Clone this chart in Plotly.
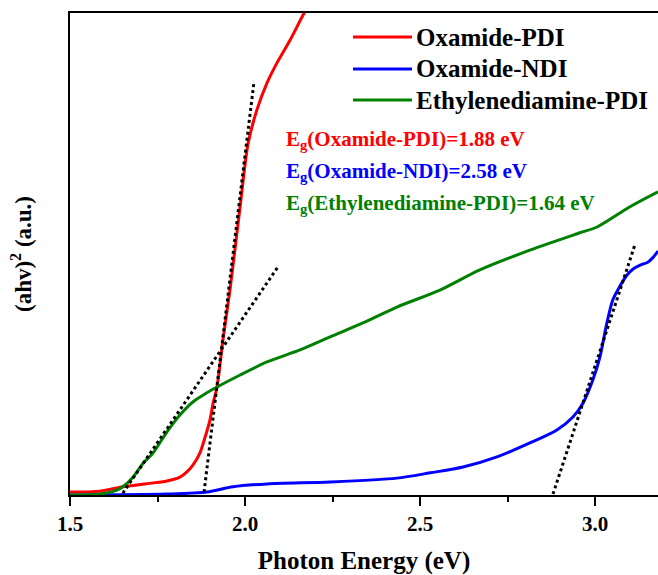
import plotly.graph_objects as go

# ---- data ----
red_name = "Oxamide-PDI"
red_E = [1.50, 1.586, 1.651, 1.714, 1.777, 1.814, 1.834, 1.851, 1.871, 1.886, 1.90, 1.909,
         1.92, 1.937, 1.957, 1.986, 2.009, 2.034, 2.063, 2.091, 2.129, 2.169, 2.20]
red_y = [0.06, 0.08, 0.17, 0.23, 0.29, 0.37, 0.48, 0.62, 0.87, 1.20, 1.56, 1.91,
         2.24, 3.22, 4.25, 5.98, 7.30, 7.99, 8.55, 8.96, 9.44, 10.0, 10.37]

blue_name = "Oxamide-NDI"
blue_E = [1.50, 1.777, 1.891, 1.966, 2.063, 2.243, 2.434, 2.529, 2.623, 2.72, 2.814, 2.891,
          2.937, 2.966, 2.994, 3.014, 3.034, 3.051, 3.071, 3.091, 3.109, 3.129, 3.151, 3.166, 3.18]
blue_y = [0.0, 0.02, 0.06, 0.17, 0.23, 0.27, 0.35, 0.46, 0.58, 0.79, 1.08, 1.35,
          1.62, 1.91, 2.39, 2.86, 3.57, 4.05, 4.33, 4.56, 4.69, 4.77, 4.83, 4.93, 5.06]

green_name = "Ethylenediamine-PDI"
green_E = [1.50, 1.586, 1.634, 1.651, 1.68, 1.709, 1.737, 1.777, 1.814, 1.851, 1.891, 1.92,
           1.986, 2.063, 2.157, 2.243, 2.337, 2.434, 2.557, 2.671, 2.814, 2.957, 3.006, 3.10, 3.18]
green_y = [0.0, 0.02, 0.10, 0.17, 0.37, 0.66, 0.87, 1.31, 1.66, 1.93, 2.12, 2.24,
           2.49, 2.76, 3.01, 3.28, 3.57, 3.90, 4.25, 4.67, 5.08, 5.44, 5.56, 5.98, 6.29]

# tangent (Tauc) lines
tan_red_E = [1.883, 2.026]
tan_red_y = [0.06, 8.59]
tan_green_E = [1.651, 2.094]
tan_green_y = [0.04, 4.73]
tan_blue_E = [2.88, 3.114]
tan_blue_y = [0.02, 5.19]

eg_labels = ["E<sub>g</sub>(Oxamide-PDI)=1.88 eV",
             "E<sub>g</sub>(Oxamide-NDI)=2.58 eV",
             "E<sub>g</sub>(Ethylenediamine-PDI)=1.64 eV"]

x_ticks = [1.5, 2.0, 2.5, 3.0]
x_tick_text = ["1.5", "2.0", "2.5", "3.0"]

RED, BLUE, GREEN = "#ff0000", "#0000ff", "#008000"
FONT = "Liberation Serif, Times New Roman, serif"

fig = go.Figure()
for E, y, name, col in [(red_E, red_y, red_name, RED),
                        (blue_E, blue_y, blue_name, BLUE),
                        (green_E, green_y, green_name, GREEN)]:
    fig.add_trace(go.Scatter(x=E, y=y, mode="lines", name=name,
                             line=dict(color=col, width=3, shape="spline", smoothing=0.8),
                             showlegend=False))
for E, y in [(tan_red_E, tan_red_y), (tan_green_E, tan_green_y), (tan_blue_E, tan_blue_y)]:
    fig.add_trace(go.Scatter(x=E, y=y, mode="lines", showlegend=False,
                             line=dict(color="black", width=3, dash="dot")))

# manual legend
leg_rows = [0.950, 0.884, 0.8195]
for (name, col), yy in zip([(red_name, RED), (blue_name, BLUE), (green_name, GREEN)], leg_rows):
    fig.add_shape(type="line", xref="paper", yref="paper", x0=0.4813, x1=0.5816, y0=yy, y1=yy,
                  line=dict(color=col, width=3))
    fig.add_annotation(xref="paper", yref="paper", x=0.585, y=yy, xanchor="left", yanchor="middle",
                       text=name, showarrow=False,
                       font=dict(family=FONT, size=25, color="black", weight="bold"))

for txt, col, yy in zip(eg_labels, [RED, BLUE, GREEN], [0.7365, 0.670, 0.6045]):
    fig.add_annotation(xref="paper", yref="paper", x=0.364, y=yy, xanchor="left", yanchor="middle",
                       text=txt, showarrow=False,
                       font=dict(family=FONT, size=21, color=col, weight="bold"))

fig.update_layout(
    width=658, height=575,
    margin=dict(l=70, r=0, t=13, b=80),
    paper_bgcolor="white", plot_bgcolor="white",
    font=dict(family=FONT, size=21, color="black", weight="bold"),
    xaxis=dict(range=[1.5, 3.18], tickvals=x_ticks, ticktext=x_tick_text,
               showline=True, linecolor="black", linewidth=2, mirror=True,
               ticks="outside", ticklen=9, tickwidth=2, tickcolor="black",
               minor=dict(tickvals=[1.75, 2.25, 2.75, 3.25], ticks="outside", ticklen=5,
                          tickwidth=2, tickcolor="black"),
               showgrid=False, zeroline=False,
               tickfont=dict(family=FONT, size=21, weight="bold"),
               title=dict(text="Photon Energy (eV)", standoff=16,
                          font=dict(family=FONT, size=25, weight="bold"))),
    yaxis=dict(range=[0, 10], showline=True, linecolor="black", linewidth=2, mirror=False,
               showticklabels=False, ticks="", showgrid=False, zeroline=False,
               title=dict(text="(ahv)<sup>2</sup> (a.u.)", standoff=30,
                          font=dict(family=FONT, size=23, weight="bold"))),
)

fig.write_html("out.html")
